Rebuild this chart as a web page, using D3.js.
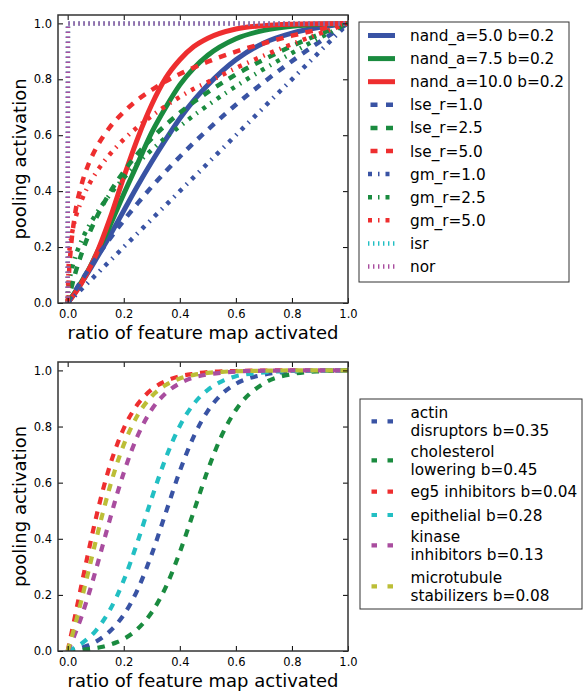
<!DOCTYPE html>
<html>
<head>
<meta charset="utf-8">
<script src="https://cdn.jsdelivr.net/npm/d3@7"></script>
<style>
  body { margin: 0; background: #fff; }
  text { font-family: "DejaVu Sans", sans-serif; fill: #000; }
</style>
</head>
<body>
<svg id="chart" width="583" height="691"></svg>
<script>
// ---- data ----
const topX = [0, 0.005, 0.01, 0.025, 0.05, 0.075, 0.1, 0.15, 0.2, 0.25, 0.3, 0.35, 0.4, 0.45, 0.5, 0.6, 0.7, 0.8, 0.9, 1.0];
const nand5  = [0, 0.007, 0.015, 0.036, 0.074, 0.113, 0.155, 0.24, 0.33, 0.42, 0.505, 0.585, 0.66, 0.725, 0.78, 0.87, 0.93, 0.965, 0.986, 1.0];
const nand75 = [0, 0.007, 0.014, 0.036, 0.077, 0.12, 0.17, 0.275, 0.39, 0.5, 0.61, 0.70, 0.78, 0.84, 0.886, 0.945, 0.975, 0.99, 0.997, 1.0];
const nand10 = [0, 0.006, 0.013, 0.033, 0.072, 0.118, 0.17, 0.30, 0.45, 0.59, 0.71, 0.805, 0.87, 0.917, 0.947, 0.98, 0.992, 0.997, 0.999, 1.0];
const lse1  = [0, 0.009, 0.017, 0.042, 0.082, 0.121, 0.159, 0.229, 0.295, 0.357, 0.416, 0.471, 0.523, 0.573, 0.62, 0.709, 0.79, 0.865, 0.935, 1.0];
const lse25 = [0, 0.022, 0.042, 0.099, 0.178, 0.244, 0.30, 0.394, 0.47, 0.534, 0.589, 0.637, 0.68, 0.719, 0.754, 0.817, 0.871, 0.919, 0.962, 1.0];
const lse5  = [0, 0.11, 0.181, 0.309, 0.425, 0.498, 0.551, 0.628, 0.683, 0.727, 0.762, 0.793, 0.819, 0.842, 0.863, 0.899, 0.929, 0.956, 0.979, 1.0];
const gm1  = [0, 0.005, 0.01, 0.025, 0.05, 0.075, 0.1, 0.15, 0.2, 0.25, 0.3, 0.35, 0.4, 0.45, 0.5, 0.6, 0.7, 0.8, 0.9, 1.0];
const gm25 = [0, 0.071, 0.10, 0.158, 0.224, 0.274, 0.316, 0.387, 0.447, 0.50, 0.548, 0.592, 0.632, 0.671, 0.707, 0.775, 0.837, 0.894, 0.949, 1.0];
const gm5  = [0, 0.171, 0.215, 0.292, 0.368, 0.422, 0.464, 0.531, 0.585, 0.63, 0.669, 0.705, 0.737, 0.766, 0.79, 0.84, 0.885, 0.926, 0.964, 1.0];
const stepX = [0, 0.001, 1.0];
const isr = [0, 1, 1];
const nor = [0, 1, 1];

const bottomX = [0, 0.025, 0.05, 0.075, 0.1, 0.125, 0.15, 0.175, 0.2, 0.25, 0.3, 0.35, 0.4, 0.45, 0.5, 0.55, 0.6, 0.7, 0.8, 0.9, 1.0];
const actin       = [0, 0.005, 0.012, 0.021, 0.033, 0.049, 0.07, 0.096, 0.129, 0.22, 0.345, 0.493, 0.641, 0.765, 0.856, 0.916, 0.952, 0.985, 0.996, 0.999, 1.0];
const cholesterol = [0, 0.002, 0.004, 0.007, 0.01, 0.015, 0.022, 0.031, 0.043, 0.079, 0.138, 0.228, 0.352, 0.498, 0.645, 0.769, 0.859, 0.954, 0.987, 0.997, 1.0];
const eg5         = [0, 0.118, 0.239, 0.358, 0.47, 0.571, 0.659, 0.732, 0.793, 0.88, 0.932, 0.962, 0.979, 0.988, 0.994, 0.997, 0.998, 0.9995, 1.0, 1.0, 1.0];
const epithelial  = [0, 0.012, 0.027, 0.047, 0.072, 0.105, 0.145, 0.194, 0.252, 0.391, 0.545, 0.688, 0.802, 0.881, 0.931, 0.961, 0.979, 0.993, 0.998, 0.999, 1.0];
const kinase      = [0, 0.058, 0.125, 0.202, 0.287, 0.377, 0.467, 0.555, 0.635, 0.768, 0.861, 0.919, 0.954, 0.975, 0.986, 0.992, 0.996, 0.999, 1.0, 1.0, 1.0];
const microtubule = [0, 0.088, 0.185, 0.288, 0.391, 0.491, 0.583, 0.665, 0.735, 0.841, 0.908, 0.948, 0.971, 0.984, 0.991, 0.995, 0.997, 0.999, 1.0, 1.0, 1.0];

const ticks = [0, 0.2, 0.4, 0.6, 0.8, 1.0];

const topLabels = ["nand_a=5.0 b=0.2", "nand_a=7.5 b=0.2", "nand_a=10.0 b=0.2",
  "lse_r=1.0", "lse_r=2.5", "lse_r=5.0", "gm_r=1.0", "gm_r=2.5", "gm_r=5.0", "isr", "nor"];
const bottomLabels = [["actin", "disruptors b=0.35"], ["cholesterol", "lowering b=0.45"],
  ["eg5 inhibitors b=0.04"], ["epithelial b=0.28"], ["kinase", "inhibitors b=0.13"],
  ["microtubule", "stabilizers b=0.08"]];

// ---- styles ----
const C = { b: "#3953a4", g: "#1a8b3f", r: "#ee2e2f", c: "#22bfc3", m: "#a94d9f", y: "#bcbe37" };
const DASH = { solid: null, dashed: "7.5,7.5", dashdot: "4,6,1.5,6", dotted: "1.4,3.6" };

const topSeries = [
  { x: topX, y: nand5,  color: C.b, style: "solid" },
  { x: topX, y: nand75, color: C.g, style: "solid" },
  { x: topX, y: nand10, color: C.r, style: "solid" },
  { x: topX, y: lse1,  color: C.b, style: "dashed" },
  { x: topX, y: lse25, color: C.g, style: "dashed" },
  { x: topX, y: lse5,  color: C.r, style: "dashed" },
  { x: topX, y: gm1,  color: C.b, style: "dashdot" },
  { x: topX, y: gm25, color: C.g, style: "dashdot" },
  { x: topX, y: gm5,  color: C.r, style: "dashdot" },
  { x: stepX, y: isr, color: C.c, style: "dotted", linear: true },
  { x: stepX, y: nor, color: C.m, style: "dotted", linear: true }
].map((s, i) => ({ ...s, label: topLabels[i] }));

const bottomSeries = [
  { y: actin, color: C.b }, { y: cholesterol, color: C.g }, { y: eg5, color: C.r },
  { y: epithelial, color: C.c }, { y: kinase, color: C.m }, { y: microtubule, color: C.y }
].map((s, i) => ({ ...s, x: bottomX, style: "dashed", label: bottomLabels[i] }));

const svg = d3.select("#chart");

function drawPanel(box, series, lw, id) {
  const x = d3.scaleLinear().domain([-0.0345, 1.0]).range([box.left, box.right]);
  const y = d3.scaleLinear().domain([0, 1.03]).range([box.bottom, box.top]);

  svg.append("clipPath").attr("id", id)
    .append("rect").attr("x", box.left).attr("y", box.top)
    .attr("width", box.right - box.left).attr("height", box.bottom - box.top);

  const g = svg.append("g").attr("clip-path", `url(#${id})`);
  series.forEach(s => {
    const line = d3.line()
      .x((d, i) => x(s.x[i]))
      .y(d => y(d))
      .curve(s.linear ? d3.curveLinear : d3.curveMonotoneX);
    g.append("path")
      .attr("d", line(s.y))
      .attr("fill", "none")
      .attr("stroke", s.color)
      .attr("stroke-width", s.style === "solid" ? lw + 0.5 : lw)
      .attr("stroke-dasharray", DASH[s.style])
      .attr("stroke-linecap", "butt");
  });

  const fmt = d3.format(".1f");
  // inward ticks on all four sides
  svg.append("g").attr("transform", `translate(0,${box.bottom})`)
    .call(d3.axisBottom(x).tickValues(ticks).tickFormat(fmt).tickSizeInner(-5).tickSizeOuter(0).tickPadding(7))
    .call(a => a.select(".domain").remove());
  svg.append("g").attr("transform", `translate(0,${box.top})`)
    .call(d3.axisTop(x).tickValues(ticks).tickFormat("").tickSizeInner(-5).tickSizeOuter(0))
    .call(a => a.select(".domain").remove());
  svg.append("g").attr("transform", `translate(${box.left},0)`)
    .call(d3.axisLeft(y).tickValues(ticks).tickFormat(fmt).tickSizeInner(-5).tickSizeOuter(0).tickPadding(6))
    .call(a => a.select(".domain").remove());
  svg.append("g").attr("transform", `translate(${box.right},0)`)
    .call(d3.axisRight(y).tickValues(ticks).tickFormat("").tickSizeInner(-5).tickSizeOuter(0))
    .call(a => a.select(".domain").remove());
  svg.selectAll(".tick text").style("font-family", "DejaVu Sans").style("font-size", "11.5px").attr("fill", "#000");
  svg.selectAll(".tick line").attr("stroke", "#000");

  svg.append("rect")
    .attr("x", box.left).attr("y", box.top)
    .attr("width", box.right - box.left).attr("height", box.bottom - box.top)
    .attr("fill", "none").attr("stroke", "#333").attr("stroke-width", 1.5);

  svg.append("text")
    .attr("x", (box.left + box.right) / 2).attr("y", box.bottom + 36)
    .attr("text-anchor", "middle").style("font-size", "18px")
    .text("ratio of feature map activated");
  svg.append("text")
    .attr("transform", `translate(26,${(box.top + box.bottom) / 2}) rotate(-90)`)
    .attr("text-anchor", "middle").style("font-size", "18px")
    .text("pooling activation");
}

drawPanel({ left: 58, right: 348, top: 15, bottom: 303 }, topSeries, 4.5, "clipTop");
drawPanel({ left: 58, right: 348, top: 362, bottom: 651 }, bottomSeries, 4.2, "clipBottom");

// ---- legends ----
const lgTop = svg.append("g");
lgTop.append("rect").attr("x", 359).attr("y", 22).attr("width", 210).attr("height", 260)
  .attr("fill", "#fff").attr("stroke", "#333").attr("stroke-width", 1);
topSeries.forEach((s, i) => {
  const cy = 35.5 + i * 23.1;
  const dashed = s.style === "dashed";
  lgTop.append("line")
    .attr("x1", dashed ? 370.5 : 368).attr("x2", dashed ? 393 : 395)
    .attr("y1", cy).attr("y2", cy)
    .attr("stroke", s.color)
    .attr("stroke-width", s.style === "solid" ? 5 : 4.5)
    .attr("stroke-dasharray", dashed ? "7,8.5" : DASH[s.style]);
  lgTop.append("text").attr("x", 410).attr("y", cy + 5.5)
    .style("font-size", "15.3px").text(s.label);
});

const lgBot = svg.append("g");
lgBot.append("rect").attr("x", 360).attr("y", 399).attr("width", 222).attr("height", 210)
  .attr("fill", "#fff").attr("stroke", "#333").attr("stroke-width", 1);
const rowTop = [412.7, 451.7, 491.7, 515, 536.7, 577.7];
bottomSeries.forEach((s, i) => {
  const lines = s.label;
  const cy = rowTop[i] + (lines.length - 1) * 17.5 / 2;
  lgBot.append("line")
    .attr("x1", 371.5).attr("x2", 393.5).attr("y1", cy).attr("y2", cy)
    .attr("stroke", s.color).attr("stroke-width", 4.2)
    .attr("stroke-dasharray", "5.5,10.5");
  lines.forEach((t, j) => {
    lgBot.append("text").attr("x", 410.5).attr("y", rowTop[i] + j * 17.5 + 5.5)
      .style("font-size", "15.3px").text(t);
  });
});
</script>
</body>
</html>
